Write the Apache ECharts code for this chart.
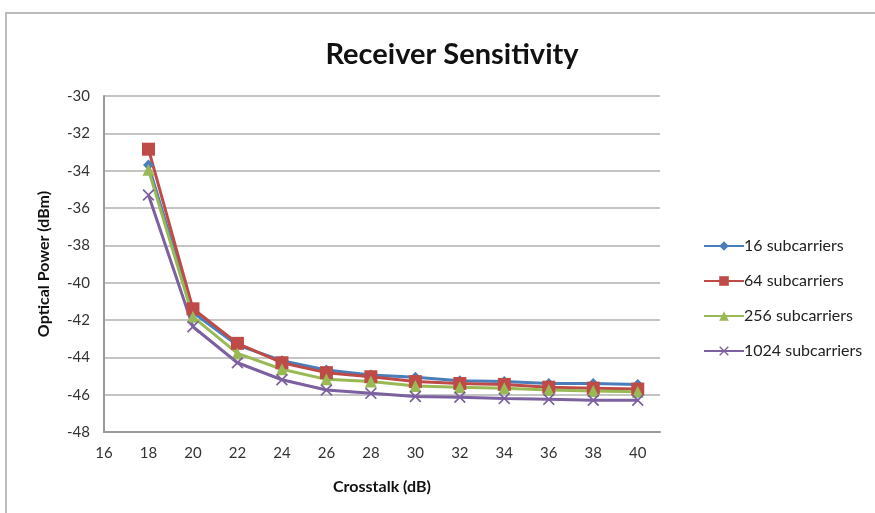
<!DOCTYPE html>
<html>
<head>
<meta charset="utf-8">
<script src="https://cdn.jsdelivr.net/npm/echarts@6/dist/echarts.min.js"></script>
<style>
    html, body { margin: 0; padding: 0; background: #fff; }
    #frame { position: absolute; left: 5px; top: 12px; width: 900px; height: 520px; border: 2px solid #bcbcbc; box-sizing: border-box; }
    #chart { position: absolute; left: 0; top: 0; width: 875px; height: 513px; }
</style>
</head>
<body>
<div id="frame"></div>
<div id="chart"></div>
<script>
const crosstalk = [18, 20, 22, 24, 26, 28, 30, 32, 34, 36, 38, 40]
const sub16 = [-33.7, -41.6, -43.35, -44.18, -44.68, -44.95, -45.07, -45.25, -45.3, -45.4, -45.4, -45.45]
const sub64 = [-32.85, -41.4, -43.25, -44.29, -44.82, -45.04, -45.3, -45.4, -45.45, -45.6, -45.65, -45.7]
const sub256 = [-33.95, -41.83, -43.79, -44.64, -45.18, -45.3, -45.53, -45.6, -45.65, -45.75, -45.8, -45.85]
const sub1024 = [-35.3, -42.36, -44.29, -45.2, -45.75, -45.93, -46.1, -46.14, -46.2, -46.25, -46.3, -46.3]
const seriesNames = ['16 subcarriers', '64 subcarriers', '256 subcarriers', '1024 subcarriers']

const xSymbol = 'path://M0,1 L1,0 L5,4 L9,0 L10,1 L6,5 L10,9 L9,10 L5,6 L1,10 L0,9 L4,5 Z'
const colors = ['#4a7ebb', '#be4b48', '#98b954', '#7d60a0']
const symbols = ['diamond', 'rect', 'triangle', xSymbol]
const sizes = [11, 13, 12, 12]
const values = [sub16, sub64, sub256, sub1024]

const font = 'Lato, "Open Sans", sans-serif'
const chart = echarts.init(document.getElementById('chart'))

const series = []
for (let i = 0; i < values.length; i++) {
    series.push({
        name: seriesNames[i],
        type: 'line',
        symbol: symbols[i],
        symbolSize: sizes[i],
        showAllSymbol: true,
        data: crosstalk.map((x, j) => [x, values[i][j]]),
        lineStyle: { color: colors[i], width: 3 },
        itemStyle: { color: colors[i] },
        emphasis: { disabled: true }
    })
}

const option = {
    animation: false,
    title: {
        text: 'Receiver Sensitivity',
        left: 447,
        top: 35,
        textAlign: 'center',
        textStyle: { fontFamily: font, fontSize: 29, fontWeight: 'bold', color: '#111' }
    },
    grid: { left: 104, right: 215, top: 96, bottom: 81 },
    legend: {
        orient: 'vertical',
        left: 698,
        top: 233,
        itemGap: 19,
        itemWidth: 40,
        itemHeight: 12,
        data: seriesNames,
        textStyle: { fontFamily: font, fontSize: 16, color: '#222', padding: [0, 0, 0, -5] }
    },
    xAxis: {
        type: 'value',
        min: 16,
        max: 41,
        interval: 2,
        name: 'Crosstalk (dB)',
        nameLocation: 'middle',
        nameGap: 47,
        nameTextStyle: { fontFamily: font, fontSize: 16, fontWeight: 'bold', color: '#111' },
        axisLine: { lineStyle: { color: '#9a9a9a', width: 2 } },
        axisTick: { show: false },
        splitLine: { show: false },
        axisLabel: {
            fontFamily: font, fontSize: 15, color: '#333', margin: 14,
            formatter: v => (v > 40 ? '' : v)
        }
    },
    yAxis: {
        type: 'value',
        min: -48,
        max: -30,
        interval: 2,
        name: 'Optical Power (dBm)',
        nameLocation: 'middle',
        nameGap: 52,
        nameTextStyle: { fontFamily: font, fontSize: 16, fontWeight: 'bold', color: '#111' },
        axisLine: { show: true, lineStyle: { color: '#9a9a9a', width: 2 } },
        axisTick: { show: false },
        splitLine: { lineStyle: { color: '#c4c4c4', width: 2 } },
        axisLabel: { fontFamily: font, fontSize: 15, color: '#333', margin: 14 }
    },
    series: series
}
chart.setOption(option)
</script>
</body>
</html>
